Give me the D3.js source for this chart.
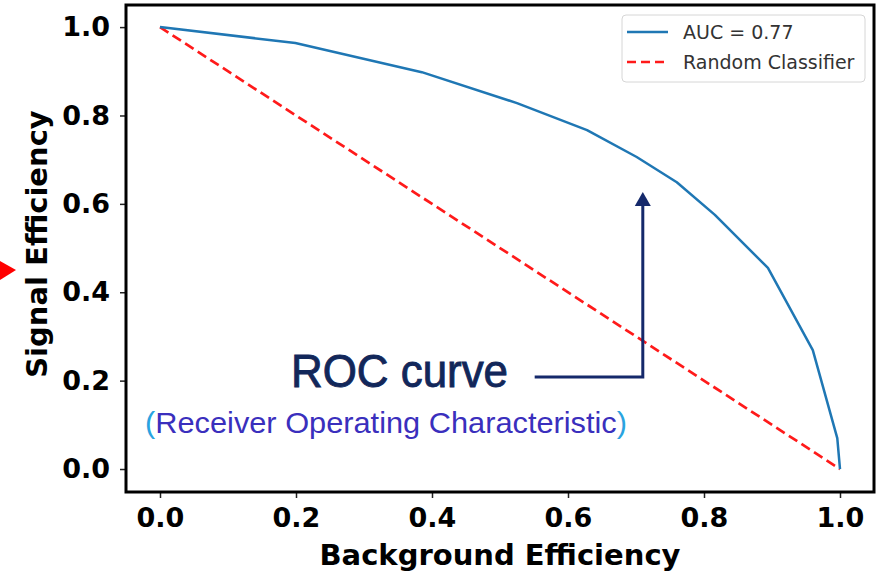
<!DOCTYPE html>
<html lang="en">
<head>
    <meta charset="UTF-8">
    <title>ROC curve</title>
    <script src="https://d3js.org/d3.v7.min.js"></script>
    <style>
        body { margin: 0; background: #fff; }
        .tick text {
            font-family: "DejaVu Sans", sans-serif;
            font-weight: bold;
            font-size: 27px;
            fill: #000;
        }
        .tick line { stroke: #222; stroke-width: 1.5px; }
        .axis-label {
            font-family: "DejaVu Sans", sans-serif;
            font-weight: bold;
            font-size: 29px;
            text-anchor: middle;
        }
        .legend text {
            font-family: "DejaVu Sans", sans-serif;
            font-size: 19px;
            fill: #333;
        }
    </style>
</head>
<body>
    <svg width="886" height="576"></svg>

    <script>
        // ROC points
        const backgroundEff = [0, 0.199, 0.385, 0.525, 0.628, 0.701, 0.76, 0.816, 0.894, 0.96, 0.996, 1.0];
        const signalEff = [1, 0.964, 0.898, 0.828, 0.767, 0.706, 0.649, 0.575, 0.455, 0.269, 0.07, 0.0];
        const randomX = [0, 1];
        const randomY = [1, 0];
        const tickValues = [0, 0.2, 0.4, 0.6, 0.8, 1.0];
        const legendLabels = ["AUC = 0.77", "Random Classifier"];

        const svg = d3.select("svg");
        const plotLeft = 126, plotRight = 874, plotTop = 5, plotBottom = 492;

        const x = d3.scaleLinear().domain([-0.05, 1.05]).range([plotLeft, plotRight]);
        const y = d3.scaleLinear().domain([-0.052, 1.05]).range([plotBottom, plotTop]);

        // axes
        svg.append("g")
            .attr("transform", `translate(0,${plotBottom})`)
            .call(d3.axisBottom(x).tickValues(tickValues).tickFormat(d3.format(".1f")).tickSize(6).tickPadding(10))
            .call(g => g.select(".domain").remove());

        svg.append("g")
            .attr("transform", `translate(${plotLeft},0)`)
            .call(d3.axisLeft(y).tickValues(tickValues).tickFormat(d3.format(".1f")).tickSize(6).tickPadding(10))
            .call(g => g.select(".domain").remove());

        // random classifier diagonal
        const line = d3.line().x(d => x(d[0])).y(d => y(d[1]));
        svg.append("path")
            .datum(d3.zip(randomX, randomY))
            .attr("d", line)
            .attr("fill", "none")
            .attr("stroke", "#ff1a1a")
            .attr("stroke-width", 2.7)
            .attr("stroke-dasharray", "10,5");

        // roc curve
        svg.append("path")
            .datum(d3.zip(backgroundEff, signalEff))
            .attr("d", line)
            .attr("fill", "none")
            .attr("stroke", "#1f77b4")
            .attr("stroke-width", 2.5)
            .attr("stroke-linejoin", "round");

        // frame
        svg.append("rect")
            .attr("x", plotLeft).attr("y", plotTop)
            .attr("width", plotRight - plotLeft).attr("height", plotBottom - plotTop)
            .attr("fill", "none")
            .attr("stroke", "#000")
            .attr("stroke-width", 3);

        // axis labels
        svg.append("text")
            .attr("class", "axis-label")
            .attr("x", 500).attr("y", 565)
            .text("Background Efficiency");

        svg.append("text")
            .attr("class", "axis-label")
            .attr("transform", "translate(47,244) rotate(-90)")
            .text("Signal Efficiency");

        // legend
        const legend = svg.append("g").attr("class", "legend");
        legend.append("rect")
            .attr("x", 622).attr("y", 15)
            .attr("width", 243).attr("height", 67)
            .attr("rx", 4)
            .attr("fill", "#fff")
            .attr("fill-opacity", 0.8)
            .attr("stroke", "#d6d6d6");
        const legendStyles = [
            { color: "#1f77b4", dash: null },
            { color: "#ff1a1a", dash: "9,5" }
        ];
        legendLabels.forEach((label, i) => {
            const ly = 32 + i * 30;
            legend.append("line")
                .attr("x1", 627).attr("x2", 668)
                .attr("y1", ly).attr("y2", ly)
                .attr("stroke", legendStyles[i].color)
                .attr("stroke-width", 2.5)
                .attr("stroke-dasharray", legendStyles[i].dash);
            legend.append("text")
                .attr("x", 683).attr("y", ly + 7)
                .text(label);
        });

        // annotation: ROC curve arrow
        const navy = "#15296b";
        const ax = x(0.71), ay = y(0.208), tipY = y(0.627);
        svg.append("path")
            .attr("d", `M${x(0.551)},${ay} H${ax} V${tipY + 14}`)
            .attr("fill", "none")
            .attr("stroke", navy)
            .attr("stroke-width", 3);
        svg.append("path")
            .attr("d", `M${ax - 8},${tipY + 14} L${ax + 8},${tipY + 14} L${ax},${tipY} Z`)
            .attr("fill", navy);

        svg.append("text")
            .attr("x", 291).attr("y", 387)
            .attr("font-family", "Liberation Sans, Arial, sans-serif")
            .attr("font-size", 46)
            .attr("fill", "#12275a")
            .attr("stroke", "#12275a")
            .attr("stroke-width", 0.9)
            .attr("textLength", 217)
            .attr("lengthAdjust", "spacingAndGlyphs")
            .text("ROC curve");

        const sub = svg.append("text")
            .attr("x", 145).attr("y", 433)
            .attr("font-family", "Liberation Sans, Arial, sans-serif")
            .attr("font-size", 30)
            .attr("fill", "#3a2fbd")
            .attr("textLength", 482)
            .attr("lengthAdjust", "spacingAndGlyphs");
        sub.append("tspan").attr("fill", "#2aa3e0").text("(");
        sub.append("tspan").text("Receiver Operating Characteristic");
        sub.append("tspan").attr("fill", "#2aa3e0").text(")");

        // red pointer at the left edge
        svg.append("path")
            .attr("d", "M0,261 L16,270 L0,280 Z")
            .attr("fill", "#ff0000");
    </script>
</body>
</html>
